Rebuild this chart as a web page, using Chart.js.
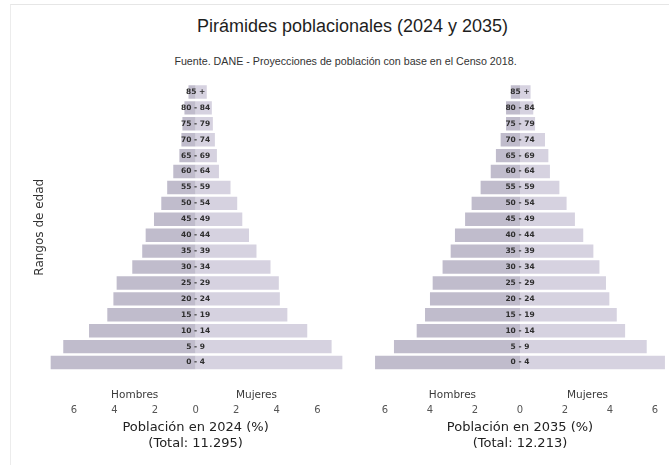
<!DOCTYPE html>
<html>
<head>
<meta charset="utf-8">
<script src="https://cdn.jsdelivr.net/npm/chart.js@4"></script>
<style>
    html, body { margin: 0; padding: 0; background: #fff; }
    #page { position: relative; width: 669px; height: 465px; overflow: hidden; }
    .frame { position: absolute; left: 10px; top: 4px; width: 659px; height: 461px; border-top: 1px solid #e6e6e6; border-left: 1px solid #ececec; }
    #title { position: absolute; left: 18px; width: 669px; top: 16px; line-height: 1; text-align: center; font: 18px "Liberation Sans", Arial, sans-serif; color: #1e1e1e; }
    #subtitle { position: absolute; left: 11px; width: 669px; top: 55px; line-height: 1; text-align: center; font: 10.7px "Liberation Sans", Arial, sans-serif; color: #333; }
    .box { position: absolute; top: 70px; height: 386px; }
    #box-2024 { left: 32px; width: 318px; }
    #box-2035 { left: 371px; width: 298px; }
</style>
</head>
<body>
<div id="page">
    <div class="frame"></div>
    <div id="title">Pirámides poblacionales (2024 y 2035)</div>
    <div id="subtitle">Fuente. DANE - Proyecciones de población con base en el Censo 2018.</div>
    <div class="box" id="box-2024"><canvas id="chart-2024"></canvas></div>
    <div class="box" id="box-2035"><canvas id="chart-2035"></canvas></div>
</div>
<script>
const ageGroups = ['0 - 4', '5 - 9', '10 - 14', '15 - 19', '20 - 24', '25 - 29', '30 - 34', '35 - 39', '40 - 44',
    '45 - 49', '50 - 54', '55 - 59', '60 - 64', '65 - 69', '70 - 74', '75 - 79', '80 - 84', '85 +'];

// % of population (youngest first)
const men2024 = [7.14, 6.52, 5.25, 4.35, 4.05, 3.89, 3.12, 2.63, 2.46, 2.05, 1.69, 1.40, 1.10, 0.80, 0.70, 0.65, 0.55, 0.35];
const women2024 = [7.23, 6.70, 5.50, 4.52, 4.15, 4.10, 3.69, 3.00, 2.63, 2.30, 2.05, 1.72, 1.15, 1.05, 0.95, 0.85, 0.80, 0.55];
const men2035 = [6.44, 5.60, 4.59, 4.22, 4.00, 3.88, 3.44, 3.08, 2.89, 2.44, 2.15, 1.75, 1.30, 1.07, 0.86, 0.62, 0.62, 0.41];
const women2035 = [6.44, 5.63, 4.67, 4.30, 3.97, 3.82, 3.53, 3.26, 2.81, 2.44, 2.07, 1.75, 1.33, 1.26, 1.11, 0.67, 0.59, 0.47];

const xTicks = [-6, -4, -2, 0, 2, 4, 6];
const sideLabels = [{ text: 'Hombres', at: -3 }, { text: 'Mujeres', at: 3 }];

const MEN_COLOR = '#c0bccc';
const WOMEN_COLOR = '#d6d2e0';

// age labels sit in the middle of each row, plus Hombres / Mujeres under the plot
const pyramidLabels = {
    id: 'pyramidLabels',
    afterDatasetsDraw(chart) {
        const { ctx, chartArea, scales: { x, y } } = chart;
        ctx.save();
        ctx.textAlign = 'center';
        ctx.textBaseline = 'middle';
        ctx.fillStyle = '#2e2e2e';
        ctx.font = 'bold 7.5px "DejaVu Sans", sans-serif';
        ageGroups.forEach((g, i) => ctx.fillText(g, x.getPixelForValue(0), y.getPixelForValue(i)));
        ctx.fillStyle = '#3a3a3a';
        ctx.font = '10.5px "DejaVu Sans", sans-serif';
        sideLabels.forEach(s => ctx.fillText(s.text, x.getPixelForValue(s.at), chartArea.bottom + 25));
        ctx.restore();
    }
};

function makePyramid(id, men, women, year, total, maxX, showYTitle) {
    return new Chart(document.getElementById(id), {
        type: 'bar',
        data: {
            labels: ageGroups,
            datasets: [
                { label: 'Hombres', data: men.map(v => -v), backgroundColor: MEN_COLOR },
                { label: 'Mujeres', data: women, backgroundColor: WOMEN_COLOR },
            ]
        },
        options: {
            indexAxis: 'y',
            responsive: true, maintainAspectRatio: false,
            animation: false,
            layout: { padding: { top: 14, right: showYTitle ? 4.8 : 0, left: 0, bottom: 0 } },
            datasets: { bar: { barPercentage: 0.84, categoryPercentage: 1 } },
            plugins: { legend: { display: false }, tooltip: { enabled: false } },
            scales: {
                x: {
                    stacked: true,
                    min: -maxX, max: maxX,
                    afterBuildTicks: axis => { axis.ticks = xTicks.map(v => ({ value: v })); },
                    // tick marks hidden, tickLength only makes room for Hombres / Mujeres
                    grid: { display: false, drawTicks: true, tickLength: 31 },
                    border: { display: false },
                    ticks: {
                        padding: 3,
                        color: '#555',
                        font: { family: 'DejaVu Sans', size: 10 },
                        callback: v => Math.abs(v),
                    },
                    title: {
                        display: true,
                        text: [`Población en ${year} (%)`, `(Total: ${total})`],
                        color: '#222',
                        font: { family: 'DejaVu Sans', size: 13, lineHeight: 1.25 },
                        padding: { top: 0, bottom: 4 },
                    }
                },
                y: {
                    stacked: true,
                    reverse: true,
                    display: showYTitle ? true : false,
                    grid: { display: false, drawTicks: false },
                    border: { display: false },
                    ticks: { display: false },
                    title: {
                        display: showYTitle,
                        text: 'Rangos de edad',
                        color: '#333',
                        font: { family: 'DejaVu Sans', size: 12, lineHeight: 1 },
                        padding: { top: 2, bottom: 0 },
                    }
                }
            }
        },
        plugins: [pyramidLabels]
    });
}

makePyramid('chart-2024', men2024, women2024, 2024, '11.295', 7.37, true);
makePyramid('chart-2035', men2035, women2035, 2035, '12.213', 6.62, false);
</script>
</body>
</html>
